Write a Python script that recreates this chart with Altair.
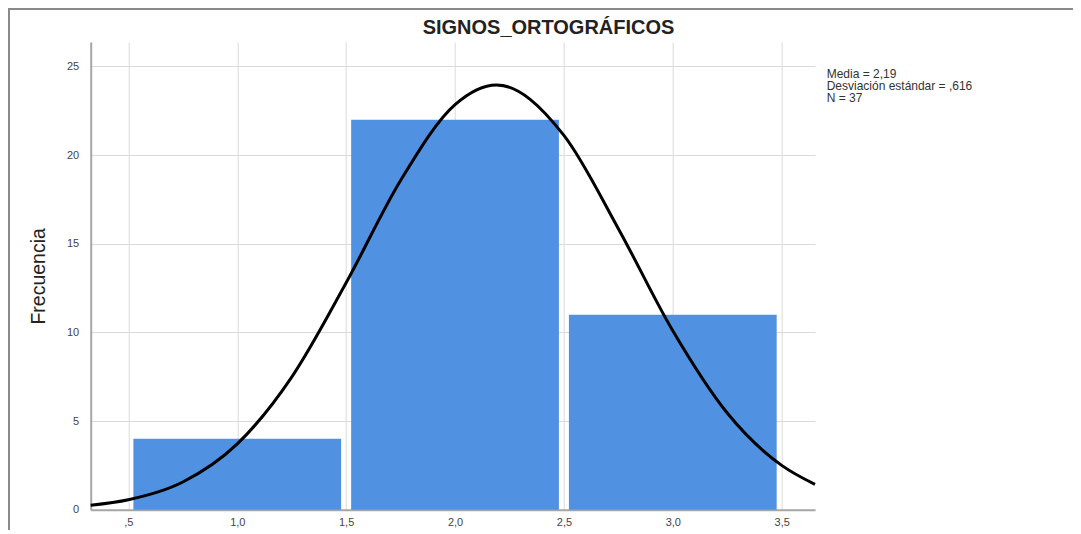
import altair as alt
import pandas as pd

# ---- data ----
bin_start = [0.5, 1.5, 2.5]
bin_end = [1.5, 2.5, 3.5]
counts = [4, 22, 11]

curve_x = [0.327, 0.5, 0.75, 1.0, 1.25, 1.5, 1.75, 2.0, 2.19, 2.5, 2.75, 3.0, 3.25, 3.5, 3.653]
curve_y = [0.25, 0.56, 1.56, 3.71, 7.48, 12.80, 18.57, 22.85, 23.96, 21.11, 15.85, 10.09, 5.45, 2.50, 1.43]

x_ticks = [0.5, 1.0, 1.5, 2.0, 2.5, 3.0, 3.5]
x_tick_labels = [",5", "1,0", "1,5", "2,0", "2,5", "3,0", "3,5"]
y_ticks = [0, 5, 10, 15, 20, 25]

stats_lines = ["Media = 2,19", "Desviación estándar = ,616", "N = 37"]
title_text = "SIGNOS_ORTOGRÁFICOS"
y_title = "Frecuencia"

x_domain = [0.327, 3.653]
y_domain = [0, 26.38]

FONT = "Liberation Sans"
BAR_COLOR = "#5191e1"

bars_df = pd.DataFrame({"start": bin_start, "end": bin_end, "count": counts})
curve_df = pd.DataFrame({"x": curve_x, "y": curve_y})
one_df = pd.DataFrame({"k": [0]})

label_expr = "{" + ",".join(f"'{v:g}':'{l}'" for v, l in zip(x_ticks, x_tick_labels)) + "}[datum.value]"

W, H = 724.3, 467.7
PAD_L, PAD_T = 82.7, 34
PAD_R = 1065 - PAD_L - W
PAD_B = 20

x_scale = alt.Scale(domain=x_domain, nice=False, zero=False)
y_scale = alt.Scale(domain=y_domain, nice=False, zero=False)

x_axis = alt.Axis(values=x_ticks, labelExpr=label_expr, title=None, grid=True,
                  ticks=False, labelPadding=7)
y_axis = alt.Axis(values=y_ticks, title=y_title, grid=True, ticks=False, labelPadding=12,
                  titleX=-52, titleY=H / 2, titleAngle=270, titleAlign="center",
                  titleBaseline="middle", titleFontSize=19.5, titleFontWeight="normal",
                  titleColor="#222222", titleFont=FONT)

bars = alt.Chart(bars_df).mark_bar(color=BAR_COLOR, xOffset=5, x2Offset=-5).encode(
    x=alt.X("start:Q", scale=x_scale, axis=x_axis),
    x2="end:Q",
    y=alt.Y("count:Q", scale=y_scale, axis=y_axis),
    y2=alt.datum(0),
)

curve = alt.Chart(curve_df).mark_line(color="black", strokeWidth=3, interpolate="monotone").encode(
    x=alt.X("x:Q", scale=x_scale),
    y=alt.Y("y:Q", scale=y_scale),
)

stats = alt.Chart(one_df).mark_text(align="left", baseline="middle", lineHeight=12,
                                     fontSize=12, font=FONT, color="#333333").encode(
    x=alt.value(736), y=alt.value(32), text=alt.value(stats_lines)
)

title = alt.Chart(one_df).mark_text(align="center", baseline="middle", fontSize=20,
                                     font=FONT, fontWeight="bold", color="#222222").encode(
    x=alt.value(457.8), y=alt.value(-14), text=alt.value(title_text)
)

frame = alt.Chart(one_df).mark_rect(fillOpacity=0, stroke="#8a8a8a", strokeWidth=2).encode(
    x=alt.value(-PAD_L + 1), y=alt.value(-PAD_T + 1), x2=alt.value(3000), y2=alt.value(3000)
)

chart = alt.layer(bars, curve, stats, title, frame).properties(
    width=W, height=H,
    autosize=alt.AutoSizeParams(type="none"),
    padding={"left": PAD_L, "top": PAD_T, "right": PAD_R, "bottom": PAD_B},
).configure_view(strokeWidth=0).configure_axis(
    gridColor="#dadada", gridWidth=1, domainColor="#a6a6a6", domainWidth=2,
    labelColor="#444444", labelFont=FONT, labelFontSize=11,
)

chart.save("out.html", embed_options={"renderer": "svg", "actions": False})
